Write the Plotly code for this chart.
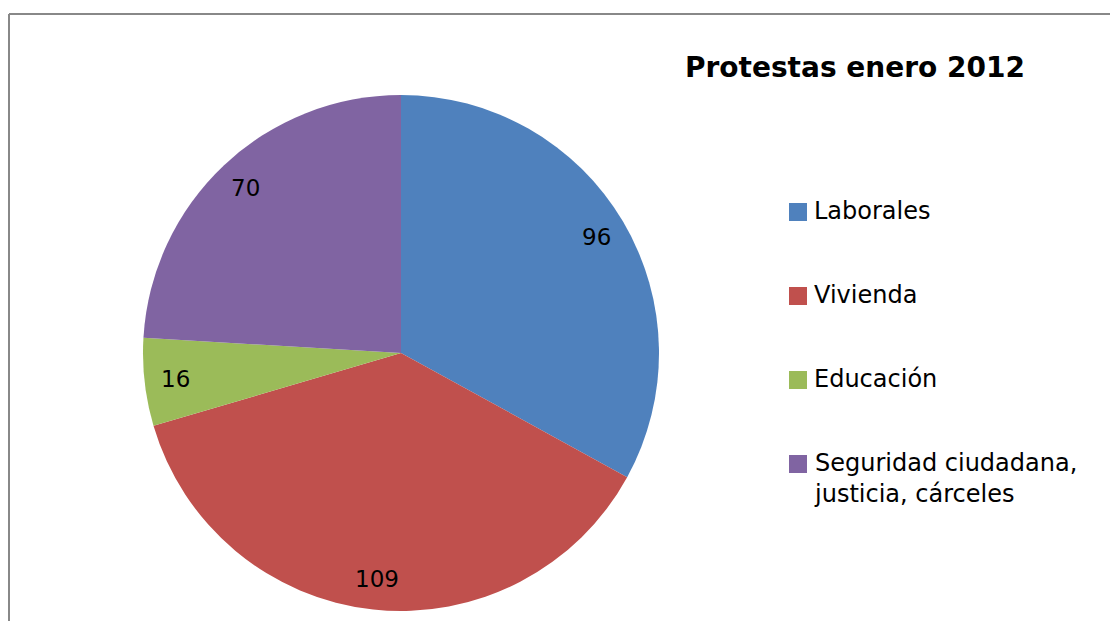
import math
import plotly.graph_objects as go

categories = ["Laborales", "Vivienda", "Educación", "Seguridad ciudadana, justicia, cárceles"]
legend_labels = ["Laborales", "Vivienda", "Educación", "Seguridad ciudadana,<br>justicia, cárceles"]
values = [96, 109, 16, 70]
colors = ["#4F81BD", "#C0504D", "#9BBB59", "#8064A2"]
title_text = "Protestas enero 2012"

W, H = 1118, 621
OFF = 8  # page body margin
def px(x):
    return (x - OFF) / W
def py(y):
    return 1 - (y - OFF) / H

FONT = "DejaVu Sans"
CX, CY, R = 401, 353, 258

fig = go.Figure()
fig.add_trace(go.Pie(
    labels=categories,
    values=values,
    marker=dict(colors=colors, line=dict(width=0)),
    sort=False,
    direction="clockwise",
    rotation=0,
    textinfo="none",
    showlegend=False,
    domain=dict(x=[px(CX - R), px(CX + R)], y=[py(CY + R), py(CY - R)]),
    hoverinfo="label+value",
))

shapes = [
    dict(type="line", xref="paper", yref="paper", x0=px(9), x1=1, y0=py(14), y1=py(14),
         line=dict(color="#888888", width=2)),
    dict(type="line", xref="paper", yref="paper", x0=px(9), x1=px(9), y0=py(14), y1=0,
         line=dict(color="#888888", width=2)),
]
annotations = []

# value labels at mid-angle of each slice
total = sum(values)
cum = 0
for v in values:
    mid = (cum + v / 2) / total * 2 * math.pi
    cum += v
    lx = CX + 0.88 * R * math.sin(mid)
    ly = CY - 0.88 * R * math.cos(mid)
    annotations.append(dict(text=str(v), xref="paper", yref="paper",
                            x=px(lx), y=py(ly), xanchor="center", yanchor="middle",
                            showarrow=False,
                            font=dict(family=FONT, size=23, color="black")))

legend_y = [212, 296, 380, 464]
for lab, col, y in zip(legend_labels, colors, legend_y):
    shapes.append(dict(type="rect", xref="paper", yref="paper",
                       x0=px(789), x1=px(807), y0=py(y + 9), y1=py(y - 9),
                       fillcolor=col, line=dict(width=0)))
    annotations.append(dict(text=lab, xref="paper", yref="paper",
                            x=px(812), y=py(y - 17), xanchor="left", yanchor="top",
                            showarrow=False, align="left",
                            font=dict(family=FONT, size=24, color="black")))

annotations.append(dict(text="<b>" + title_text + "</b>", xref="paper", yref="paper",
                        x=px(683), y=py(68), xanchor="left", yanchor="middle",
                        showarrow=False, font=dict(family=FONT, size=28, color="black")))

fig.update_layout(
    width=W, height=H,
    margin=dict(l=0, r=0, t=0, b=0),
    paper_bgcolor="white",
    plot_bgcolor="white",
    shapes=shapes,
    annotations=annotations,
)

fig.write_html("out.html")
